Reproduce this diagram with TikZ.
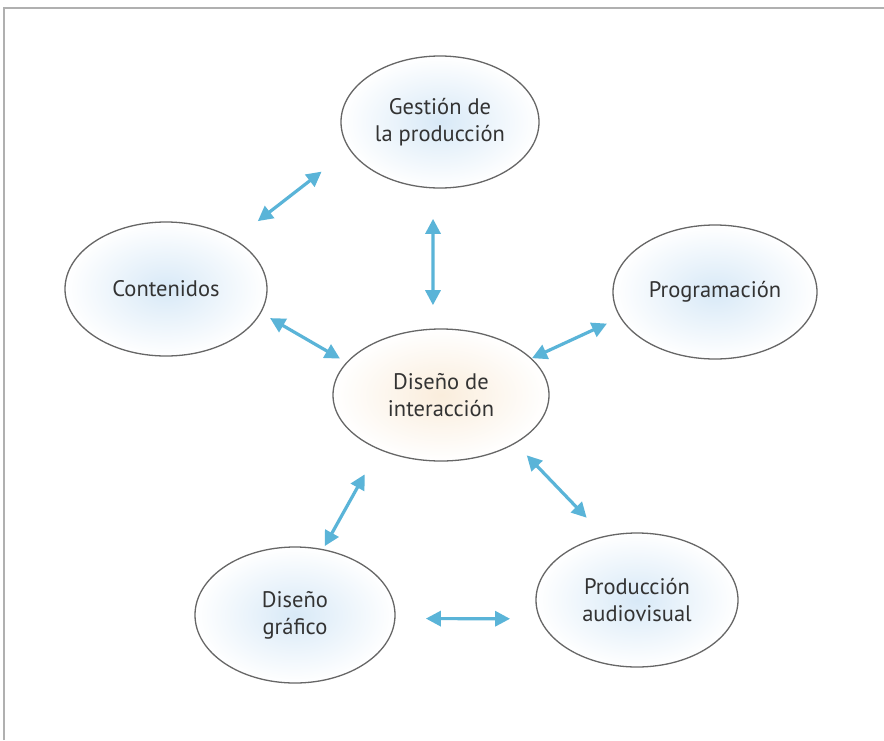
\documentclass[tikz,border=0pt]{standalone}
\usepackage{fontspec}
\setmainfont{PT Sans}
\usetikzlibrary{shapes.geometric,arrows.meta}

\definecolor{linkblue}{HTML}{5AB4D8}
\definecolor{rimgray}{HTML}{666666}
\definecolor{textgray}{HTML}{333333}
\definecolor{fillblue}{HTML}{D8E9F7}
\definecolor{fillpeach}{HTML}{FAEDDC}
\definecolor{framegray}{HTML}{B0B0B0}

\tikzset{
  bubble/.style={ellipse, draw=rimgray, line width=1.3pt, inner sep=0pt, outer sep=0pt,
    inner color=fillblue, outer color=white, align=center, text=textgray,
    font=\fontsize{22.5}{27}\selectfont},
  hub/.style={bubble, inner color=fillpeach},
  link/.style={draw=linkblue, line width=3.2pt,
    {Triangle[length=15pt,width=15pt]}-{Triangle[length=15pt,width=15pt]}}
}

\begin{document}
\begin{tikzpicture}[x=1pt,y=-1pt]
  \useasboundingbox (0,0) rectangle (884,740);
  \fill[white] (0,0) rectangle (884,740);
  \draw[framegray, line width=2pt] (4,740) -- (4,8) -- (884,8);

  \node[bubble, minimum width=198pt, minimum height=132pt] (gestion) at (440,122) {Gestión de\\la producción};
  \node[bubble, minimum width=202pt, minimum height=134pt] (contenidos) at (166,289) {Contenidos};
  \node[bubble, minimum width=204pt, minimum height=134pt] (programacion) at (715,292) {Programación};
  \node[hub, minimum width=216pt, minimum height=132pt] (interaccion) at (441,395) {Diseño de\\interacción};
  \node[bubble, minimum width=200pt, minimum height=136pt] (grafico) at (295,615) {Diseño\\gráfico};
  \node[bubble, minimum width=202pt, minimum height=134pt] (audiovisual) at (637,600) {Producción\\audiovisual};

  \draw[link, shorten <=30pt, shorten >=36pt] (contenidos.36) -- (gestion.197);
  \draw[link, shorten <=31pt, shorten >=24pt] (gestion.264) -- (interaccion.97);
  \draw[link, shorten <=11pt, shorten >=8pt] (contenidos.346) -- (interaccion.161);
  \draw[link, shorten <=1pt, shorten >=15pt] (interaccion.22) -- (programacion.195);
  \draw[link, shorten <=29pt, shorten >=4pt] (interaccion.221) -- (grafico.67);
  \draw[link, shorten <=17pt, shorten >=26pt] (interaccion.327) -- (audiovisual.117);
  \draw[link, shorten <=31pt, shorten >=30pt] (grafico.358) -- (audiovisual.191);
\end{tikzpicture}
\end{document}
